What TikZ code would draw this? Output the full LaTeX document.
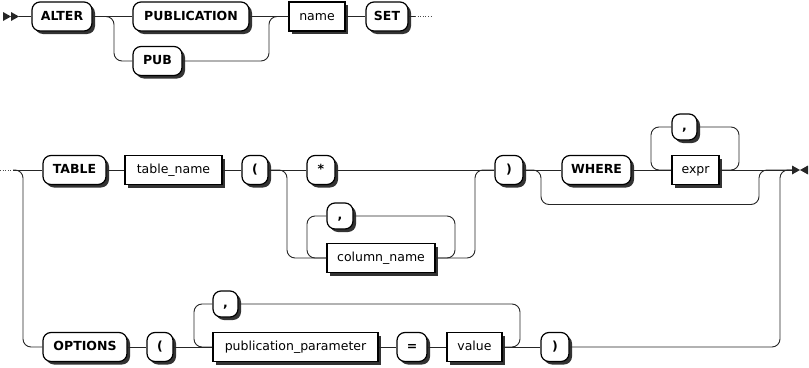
\documentclass[tikz,border=0pt]{standalone}
\usepackage{fontspec}
\setmainfont{DejaVu Sans}
\usetikzlibrary{shadows}
\begin{document}
\begin{tikzpicture}[x=1pt,y=-1pt,
  rr/.style={line width=0.9pt, draw=black!85, rounded corners=8pt},
  dots/.style={line width=0.9pt, draw=black!70, dash pattern=on 1pt off 1.6pt},
  boxshadow/.style={drop shadow={shadow xshift=3pt, shadow yshift=-3pt, fill=black!80, opacity=1}},
  base/.style={draw=black, line width=1.2pt, fill=white, minimum height=29pt, inner sep=0pt, text height=0.73em, text depth=0pt, boxshadow},
  term/.style={base, rounded corners=8pt, font=\fontsize{12.5}{14}\selectfont\bfseries},
  sterm/.style={term, minimum height=26pt},
  nterm/.style={base, font=\fontsize{12.5}{14}\selectfont},
  tri/.style={fill=black!85, draw=none}
]
\useasboundingbox (0,0) rectangle (809,367);

% ---- markers
\fill[tri] (3,12) -- (11,16.5) -- (3,21) -- cycle;
\fill[tri] (11,12) -- (19,16.5) -- (11,21) -- cycle;
\fill[tri] (792,165.5) -- (800,170) -- (792,174.5) -- cycle;
\fill[tri] (808,165.5) -- (800,170) -- (808,174.5) -- cycle;
\coordinate (start) at (19,16.5);
\coordinate (endm) at (792,170);
\coordinate (c1a) at (415,16.5);
\coordinate (c1b) at (432,16.5);
\coordinate (c2a) at (0,170);
\coordinate (c2b) at (13,170);

% ---- row 1
\node[term, minimum width=60pt] (alter) at (62,16.5) {ALTER};
\node[term, minimum width=116pt] (publication) at (191,16.5) {PUBLICATION};
\node[term, minimum width=49pt] (pub) at (157.5,61) {PUB};
\node[nterm, minimum width=56pt] (nm) at (317,16.5) {name};
\node[term, minimum width=42pt] (set) at (387,16.5) {SET};

% ---- row 2
\node[term, minimum width=63pt] (table) at (74.5,170) {TABLE};
\node[nterm, minimum width=97pt] (tablename) at (173.5,170) {table\_name};
\node[term, minimum width=26pt] (lpa) at (255,170) {(};
\node[term, minimum width=28pt] (star) at (321,170) {*};
\node[sterm, minimum width=26pt] (commaa) at (340,216) {,};
\node[nterm, minimum width=108pt] (columnname) at (381,258) {column\_name};
\node[term, minimum width=28pt] (rpa) at (509,170) {)};
\node[term, minimum width=69pt] (where) at (596.5,170) {WHERE};
\node[sterm, minimum width=25pt] (commab) at (684.5,127) {,};
\node[nterm, minimum width=47pt] (expr) at (695.5,170) {expr};

% ---- row 3
\node[term, minimum width=84pt] (options) at (85,347) {OPTIONS};
\node[term, minimum width=26pt] (lpb) at (160,347) {(};
\node[sterm, minimum width=25pt] (commac) at (225.5,304) {,};
\node[nterm, minimum width=165pt] (pubparam) at (295.5,347) {publication\_parameter};
\node[term, minimum width=30pt] (eq) at (412,347) {=};
\node[nterm, minimum width=55pt] (value) at (474.5,347) {value};
\node[term, minimum width=28pt] (rpb) at (555,347) {)};

% ---- connectors row 1
\draw[rr] (start) -- (alter.west);
\draw[rr] (alter.east) -- (publication.west);
\draw[rr] (alter.east) -- (114,16.5) -- (114,61) -- (pub.west);
\draw[rr] (publication.east) -- (nm.west);
\draw[rr] (pub.east) -- (269,61) -- (269,16.5) -- (nm.west);
\draw[rr] (nm.east) -- (set.west);
\draw[rr] (set.east) -- (c1a);
\draw[dots] (c1a) -- (c1b);

% ---- connectors row 2
\draw[dots] (c2a) -- (c2b);
\draw[rr] (c2b) -- (table.west);
\draw[rr] (c2b) -- (23,170) -- (23,347) -- (options.west);
\draw[rr] (table.east) -- (tablename.west);
\draw[rr] (tablename.east) -- (lpa.west);
\draw[rr] (lpa.east) -- (star.west);
\draw[rr] (lpa.east) -- (287,170) -- (287,258) -- (columnname.west);
\draw[rr] (commaa.west) -- (307,216) -- (307,258) -- (columnname.west);
\draw[rr] (columnname.east) -- (455,258) -- (455,216) -- (commaa.east);
\draw[rr] (star.east) -- (rpa.west);
\draw[rr] (columnname.east) -- (475,258) -- (475,170) -- (rpa.west);
\draw[rr] (rpa.east) -- (where.west);
\draw[rr] (rpa.east) -- (541,170) -- (541,204.5) -- (759,204.5) -- (759,170) -- (endm);
\draw[rr] (where.east) -- (expr.west);
\draw[rr] (commab.west) -- (651,127) -- (651,170) -- (expr.west);
\draw[rr] (expr.east) -- (739,170) -- (739,127) -- (commab.east);
\draw[rr] (expr.east) -- (endm);

% ---- connectors row 3
\draw[rr] (options.east) -- (lpb.west);
\draw[rr] (lpb.east) -- (pubparam.west);
\draw[rr] (commac.west) -- (194,304) -- (194,347) -- (pubparam.west);
\draw[rr] (pubparam.east) -- (eq.west);
\draw[rr] (eq.east) -- (value.west);
\draw[rr] (value.east) -- (520,347) -- (520,304) -- (commac.east);
\draw[rr] (value.east) -- (rpb.west);
\draw[rr] (rpb.east) -- (780,347) -- (780,170) -- (endm);
\end{tikzpicture}
\end{document}
